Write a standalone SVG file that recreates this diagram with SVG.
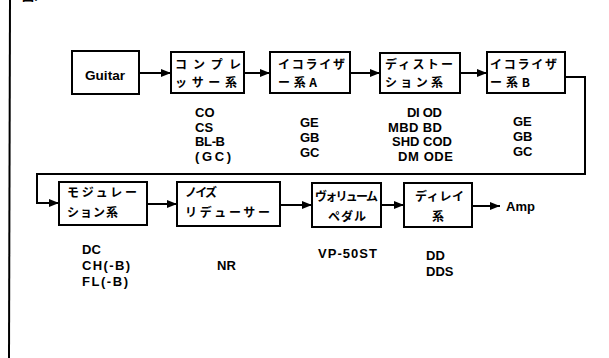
<svg xmlns="http://www.w3.org/2000/svg" width="609" height="358" viewBox="0 0 609 358">
<defs>
<style>
.box{fill:#fff;stroke:#000;stroke-width:2}
.ln{fill:none;stroke:#000;stroke-width:2}
.jp{font-family:"Noto Sans CJK JP","Noto Sans",sans-serif;font-size:12px;font-weight:bold;fill:#000}
.en{font-family:"Liberation Sans",Arial,sans-serif;font-size:13px;font-weight:bold;fill:#000}
</style>
<marker id="ah" markerUnits="userSpaceOnUse" markerWidth="10" markerHeight="8" refX="10" refY="4" orient="auto">
<path d="M0,0 L10,4 L0,8 z" fill="#000"/>
</marker>
</defs>
<rect width="609" height="358" fill="#fff"/>
<path d="M10,0 L9,358" class="ln"/>
<text x="22" y="1" class="jp" font-size="14">図.</text>

<g id="connectors">
<line x1="139" y1="73" x2="171" y2="73" class="ln" marker-end="url(#ah)"/>
<line x1="244" y1="73" x2="270" y2="73" class="ln" marker-end="url(#ah)"/>
<line x1="350" y1="73" x2="380" y2="73" class="ln" marker-end="url(#ah)"/>
<line x1="460" y1="73" x2="487" y2="73" class="ln" marker-end="url(#ah)"/>
<path d="M565,77 H585 V174 H37 V203 H59" class="ln" marker-end="url(#ah)"/>
<line x1="147" y1="204" x2="177" y2="204" class="ln" marker-end="url(#ah)"/>
<line x1="280" y1="205" x2="312" y2="205" class="ln" marker-end="url(#ah)"/>
<line x1="381" y1="205" x2="404" y2="205" class="ln" marker-end="url(#ah)"/>
<line x1="472" y1="206" x2="500" y2="206" class="ln" marker-end="url(#ah)"/>
</g>

<g id="guitar">
<rect x="72" y="51" width="67" height="43" class="box"/>
<text x="85" y="80" class="en" textLength="40" lengthAdjust="spacingAndGlyphs">Guitar</text>
</g>

<g id="compressor">
<rect x="171" y="52" width="73" height="41" class="box"/>
<text x="175" y="69" class="jp" textLength="66" lengthAdjust="spacing">コンプレ</text>
<text x="175" y="87" class="jp" textLength="62" lengthAdjust="spacing">ッサー系</text>
<text x="195" y="117" class="en">CO</text>
<text x="195" y="131.5" class="en">CS</text>
<text x="195" y="146" class="en" textLength="30" lengthAdjust="spacing">BL-B</text>
<text x="195" y="160.5" class="en" textLength="36" lengthAdjust="spacing">(GC)</text>
</g>

<g id="eqA">
<rect x="270" y="52" width="80" height="41" class="box"/>
<text x="278" y="69" class="jp" textLength="67" lengthAdjust="spacing">イコライザ</text>
<text x="278" y="87" class="jp" textLength="39" lengthAdjust="spacing">ー系A</text>
<text x="300" y="127" class="en">GE</text>
<text x="300" y="142" class="en">GB</text>
<text x="300" y="157" class="en">GC</text>
</g>

<g id="distortion">
<rect x="380" y="53" width="80" height="40" class="box"/>
<text x="385" y="69" class="jp" textLength="68" lengthAdjust="spacing">ディストー</text>
<text x="385" y="87" class="jp" textLength="58" lengthAdjust="spacing">ション系</text>
<text x="407" y="117" class="en" textLength="35" lengthAdjust="spacing">DI OD</text>
<text x="388" y="132" class="en" textLength="54" lengthAdjust="spacing">MBD BD</text>
<text x="392" y="146" class="en" textLength="60" lengthAdjust="spacing">SHD COD</text>
<text x="398" y="161" class="en" textLength="55" lengthAdjust="spacing">DM ODE</text>
</g>

<g id="eqB">
<rect x="487" y="52" width="78" height="41" class="box"/>
<text x="490" y="69" class="jp" textLength="67" lengthAdjust="spacing">イコライザ</text>
<text x="490" y="87" class="jp" textLength="40" lengthAdjust="spacing">ー系B</text>
<text x="513" y="126" class="en">GE</text>
<text x="513" y="141" class="en">GB</text>
<text x="513" y="156" class="en">GC</text>
</g>

<g id="modulation">
<rect x="59" y="182" width="88" height="43" class="box"/>
<text x="67" y="197" class="jp" textLength="70" lengthAdjust="spacing">モジュレー</text>
<text x="67" y="217" class="jp" textLength="51" lengthAdjust="spacing">ション系</text>
<text x="82" y="254" class="en">DC</text>
<text x="82" y="270" class="en" textLength="48" lengthAdjust="spacing">CH(-B)</text>
<text x="82" y="286" class="en" textLength="46" lengthAdjust="spacing">FL(-B)</text>
</g>

<g id="noise">
<rect x="177" y="182" width="103" height="44" class="box"/>
<text x="185" y="197" class="jp" textLength="32" lengthAdjust="spacing">ノイズ</text>
<text x="185" y="217" class="jp" textLength="85" lengthAdjust="spacing">リデューサー</text>
<text x="217" y="270" class="en">NR</text>
</g>

<g id="volume">
<rect x="312" y="183" width="69" height="44" class="box"/>
<text x="315" y="201" class="jp" textLength="63" lengthAdjust="spacing">ヴォリューム</text>
<text x="328" y="221" class="jp" textLength="38" lengthAdjust="spacing">ペダル</text>
<text x="318" y="258" class="en" textLength="59" lengthAdjust="spacing">VP-50ST</text>
</g>

<g id="delay">
<rect x="404" y="183" width="68" height="44" class="box"/>
<text x="415" y="201" class="jp" textLength="49" lengthAdjust="spacing">ディレイ</text>
<text x="432" y="221" class="jp">系</text>
<text x="426" y="260" class="en">DD</text>
<text x="426" y="276" class="en">DDS</text>
</g>

<g id="amp">
<text x="506" y="211" class="en">Amp</text>
</g>
</svg>
